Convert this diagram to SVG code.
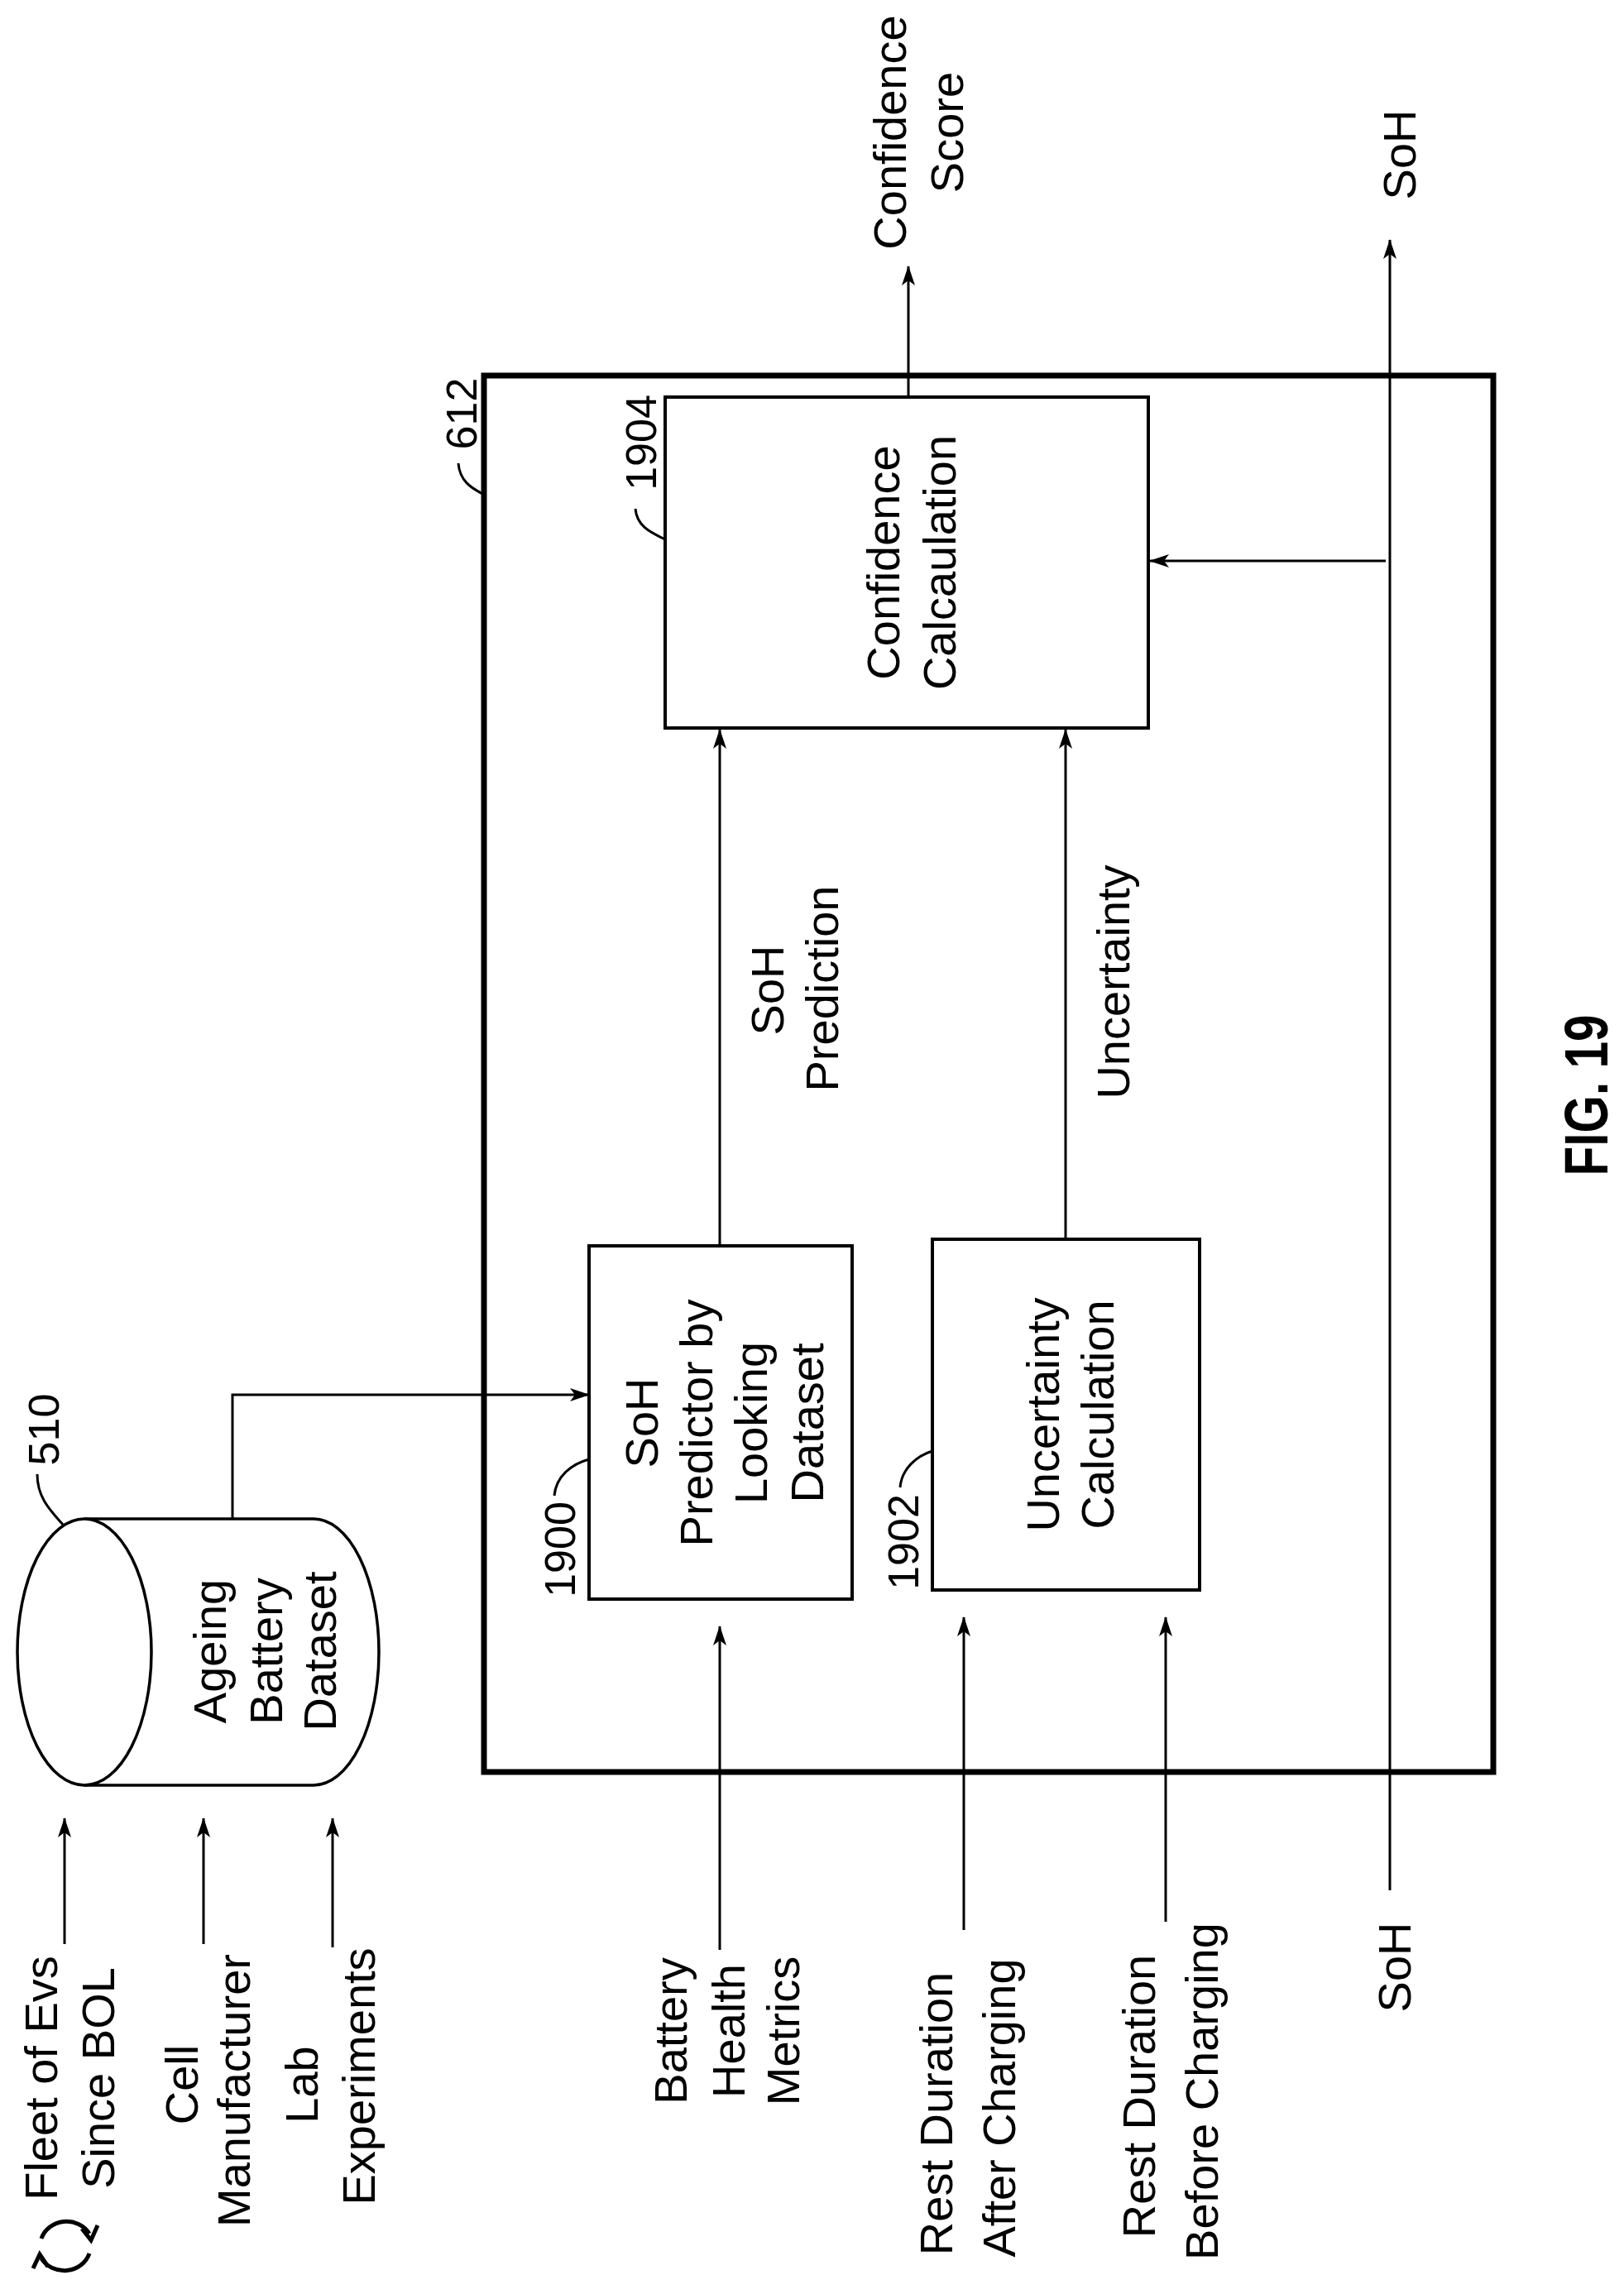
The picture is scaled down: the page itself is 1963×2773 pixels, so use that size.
<svg xmlns="http://www.w3.org/2000/svg" width="1963" height="2773" viewBox="0 0 1963 2773">
<style>
text{font-family:"Liberation Sans",Arial,sans-serif;font-size:56px;fill:#000;text-anchor:middle}
.num{font-size:52px}
.box{fill:#fff;stroke:#000;stroke-width:4}
.c{fill:none;stroke:#000;stroke-width:3}
.ld{fill:none;stroke:#000;stroke-width:3}
</style>
<defs>
<marker id="ah" viewBox="0 0 24 16" refX="23" refY="8" markerWidth="24" markerHeight="16" markerUnits="userSpaceOnUse" orient="auto">
<path d="M0,0 L24,8 L0,16 L6,8 Z" fill="#000"/>
</marker>
</defs>
<rect width="1963" height="2773" fill="#fff"/>

<g id="n612">
<rect x="585" y="454" width="1220" height="1688" fill="none" stroke="#000" stroke-width="7"/>
<text class="num" transform="translate(576,500) rotate(-90)">612</text>
<path class="ld" d="M554,560 C556,585 575,592 585,598"/>
</g>

<g id="n1904">
<rect class="box" x="804" y="480" width="584" height="400"/>
<text transform="translate(1087,680) rotate(-90)">Confidence</text>
<text transform="translate(1155,680) rotate(-90)">Calcaulation</text>
<text class="num" transform="translate(793,535) rotate(-90)">1904</text>
<path class="ld" d="M768,615 C770,638 790,645 804,652"/>
</g>

<g id="n1900">
<rect class="box" x="712" y="1506" width="318" height="427"/>
<text transform="translate(795,1720) rotate(-90)">SoH</text>
<text transform="translate(861,1720) rotate(-90)">Predictor by</text>
<text transform="translate(927,1720) rotate(-90)">Looking</text>
<text transform="translate(995,1720) rotate(-90)">Dataset</text>
<text class="num" transform="translate(695,1873) rotate(-90)">1900</text>
<path class="ld" d="M670,1808 C672,1785 690,1770 712,1764"/>
</g>

<g id="n1902">
<rect class="box" x="1127" y="1498" width="323" height="424"/>
<text transform="translate(1280,1710) rotate(-90)">Uncertainty</text>
<text transform="translate(1346,1710) rotate(-90)">Calculation</text>
<text class="num" transform="translate(1110,1864) rotate(-90)">1902</text>
<path class="ld" d="M1088,1798 C1090,1775 1108,1760 1127,1754"/>
</g>

<g id="n510">
<path d="M102,1836 L379,1836 A79,161 0 0 1 379,2158 L102,2158" fill="#fff" stroke="#000" stroke-width="3.5"/>
<ellipse cx="102" cy="1997" rx="81" ry="161" fill="#fff" stroke="#000" stroke-width="3.5"/>
<text transform="translate(273,1996) rotate(-90)">Ageing</text>
<text transform="translate(341,1996) rotate(-90)">Battery</text>
<text transform="translate(406,1996) rotate(-90)">Dataset</text>
<text class="num" transform="translate(71,1728) rotate(-90)">510</text>
<path class="ld" d="M45,1782 C45,1810 60,1825 76,1843"/>
</g>

<g id="labels">
<text transform="translate(69,2512) rotate(-90)">Fleet of Evs</text>
<text transform="translate(138,2512) rotate(-90)">Since BOL</text>
<text transform="translate(239,2520) rotate(-90)">Cell</text>
<text transform="translate(302,2527) rotate(-90)">Manufacturer</text>
<text transform="translate(384,2520) rotate(-90)">Lab</text>
<text transform="translate(453,2510) rotate(-90)">Experiments</text>
<text transform="translate(830,2455) rotate(-90)">Battery</text>
<text transform="translate(900,2455) rotate(-90)">Health</text>
<text transform="translate(966,2455) rotate(-90)">Metrics</text>
<text transform="translate(1151,2555) rotate(-90)">Rest Duration</text>
<text transform="translate(1227,2548) rotate(-90)">After Charging</text>
<text transform="translate(1396,2534) rotate(-90)">Rest Duration</text>
<text transform="translate(1472,2528) rotate(-90)">Before Charging</text>
<text transform="translate(1705,2378) rotate(-90)">SoH</text>
<text transform="translate(1095,160) rotate(-90)">Confidence</text>
<text transform="translate(1164,160) rotate(-90)">Score</text>
<text transform="translate(1711,187) rotate(-90)">SoH</text>
<text transform="translate(947,1197) rotate(-90)">SoH</text>
<text transform="translate(1013,1195) rotate(-90)">Prediction</text>
<text transform="translate(1365,1187) rotate(-90)">Uncertainty</text>
<text transform="translate(1943,1324) rotate(-90)" style="font-weight:bold;font-size:74px" textLength="195" lengthAdjust="spacingAndGlyphs">FIG. 19</text>
<g id="cycle" fill="none" stroke="#000" stroke-width="5">
<path d="M50,2706 A32,30 0 0 1 108,2700"/>
<path d="M99,2694 L110,2708 L118,2690"/>
<path d="M108,2724 A32,30 0 0 1 50,2730"/>
<path d="M58,2740 L48,2725 L40,2742"/>
</g>
</g>

<g id="connectors">
<path class="c" d="M78,2350 V2198" marker-end="url(#ah)"/>
<path class="c" d="M246,2350 V2198" marker-end="url(#ah)"/>
<path class="c" d="M402,2354 V2198" marker-end="url(#ah)"/>
<path class="c" d="M281,1836 V1686 H712" marker-end="url(#ah)"/>
<path class="c" d="M870,2357 V1966" marker-end="url(#ah)"/>
<path class="c" d="M1165,2333 V1955" marker-end="url(#ah)"/>
<path class="c" d="M1409,2323 V1955" marker-end="url(#ah)"/>
<path class="c" d="M870,1506 V882" marker-end="url(#ah)"/>
<path class="c" d="M1288,1498 V882" marker-end="url(#ah)"/>
<path class="c" d="M1098,480 V322" marker-end="url(#ah)"/>
<path class="c" d="M1680,2285 V290" marker-end="url(#ah)"/>
<path class="c" d="M1675,678 H1390" marker-end="url(#ah)"/>
</g>
</svg>
